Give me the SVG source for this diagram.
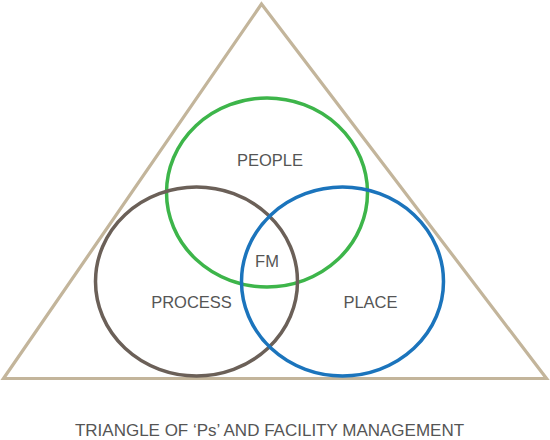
<svg xmlns="http://www.w3.org/2000/svg" width="550" height="440" viewBox="0 0 550 440">
<style>
.lbl{font-family:"Liberation Sans",Arial,sans-serif;font-size:16.5px;fill:#555;text-anchor:middle}
.c{fill:none;stroke-width:3.5}
</style>
<rect width="550" height="440" fill="#fff"/>
<g id="triangle"><polygon points="261.5,4 3.5,378.5 546.5,378.5" fill="none" stroke="#c3b59b" stroke-width="3.2" stroke-linejoin="miter"/></g>
<g id="people"><ellipse class="c" cx="267" cy="192.5" rx="100.5" ry="94.5" stroke="#3db54a"/><text class="lbl" x="270" y="165.5">PEOPLE</text></g>
<g id="process"><ellipse class="c" cx="196.5" cy="281.5" rx="101" ry="94.5" stroke="#6b6058"/><text class="lbl" x="191.5" y="307.5">PROCESS</text></g>
<g id="place"><ellipse class="c" cx="342.5" cy="281.5" rx="101" ry="94.5" stroke="#1b74bc"/><text class="lbl" x="370.5" y="307.5">PLACE</text></g>
<g id="fm"><text class="lbl" x="267" y="266.5">FM</text></g>
<g id="connectors"></g>
<text class="lbl" x="269.5" y="436" style="font-size:17px">TRIANGLE OF ‘Ps’ AND FACILITY MANAGEMENT</text>
</svg>
